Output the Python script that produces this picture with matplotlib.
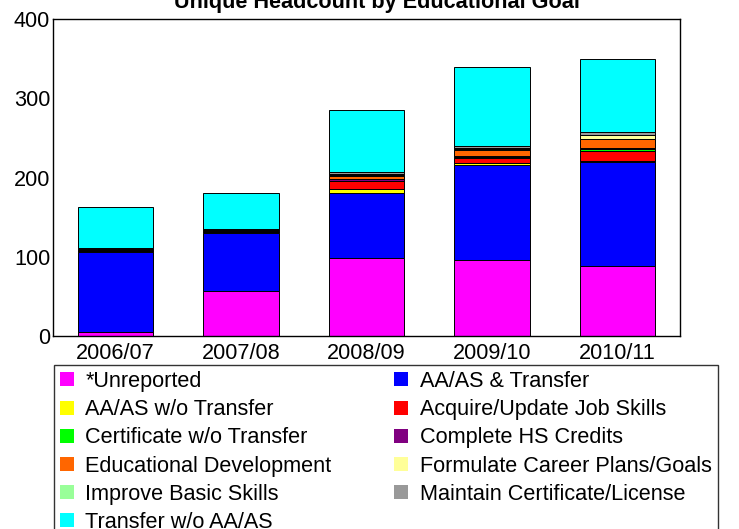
import numpy as np
import matplotlib
matplotlib.use("Agg")
import matplotlib.pyplot as plt

plt.rcParams['font.family'] = ['Liberation Sans', 'DejaVu Sans']

years = ['2006/07', '2007/08', '2008/09', '2009/10', '2010/11']

goals = ['*Unreported', 'AA/AS & Transfer', 'AA/AS w/o Transfer',
         'Acquire/Update Job Skills', 'Certificate w/o Transfer',
         'Complete HS Credits', 'Educational Development',
         'Formulate Career Plans/Goals', 'Improve Basic Skills',
         'Maintain Certificate/License', 'Transfer w/o AA/AS']

unreported = [5, 57, 98, 96, 88]
aa_transfer = [101, 73, 83, 120, 132]
aa_no_transfer = [1, 1, 4, 2, 1]
job_skills = [0, 0, 10, 6, 13]
certificate = [0, 0, 1, 2, 2]
hs_credits = [1, 1, 2, 1, 1]
ed_development = [2, 2, 4, 8, 12]
career_plans = [0, 0, 1, 1, 4]
basic_skills = [0, 0, 2, 1, 1]
maintain_cert = [1, 1, 2, 3, 3]
transfer_no_aa = [52, 45, 78, 100, 92]

series = [unreported, aa_transfer, aa_no_transfer, job_skills, certificate,
          hs_credits, ed_development, career_plans, basic_skills,
          maintain_cert, transfer_no_aa]
colors = ['#FF00FF', '#0000FF', '#FFFF00', '#FF0000', '#00FF00', '#800080',
          '#FF6600', '#FFFF99', '#99FF99', '#999999', '#00FFFF']

FS = 15.6
W, H = 739, 529
fig = plt.figure(figsize=(W / 100, H / 100), dpi=100)
ax = fig.add_axes([53 / W, 1 - 336 / H, (680 - 53) / W, (336 - 19) / H])

x = np.arange(len(years))
bottom = np.zeros(len(years))
handles = []
for vals, c, lab in zip(series, colors, goals):
    b = ax.bar(x, vals, 0.6, bottom=bottom, color=c, edgecolor='black',
               linewidth=0.7, label=lab)
    handles.append(b)
    bottom += np.array(vals)

ax.set_xlim(-0.5, 4.5)
ax.set_ylim(0, 400)
ax.set_yticks([0, 100, 200, 300, 400])
ax.set_xticks(x)
ax.set_xticklabels(years)
ax.tick_params(axis='both', length=0, labelsize=FS)
ax.tick_params(axis='y', pad=2)
ax.tick_params(axis='x', pad=5)
for s in ax.spines.values():
    s.set_color('black')
    s.set_linewidth(1)

fig.text(377 / W, 1 - 8 / H, 'Unique Headcount by Educational Goal',
         ha='center', va='baseline', fontsize=FS, fontweight='bold')

# legend ordered row by row like the original (two columns)
order = [0, 2, 4, 6, 8, 10, 1, 3, 5, 7, 9]
leg = fig.legend([handles[i] for i in order], [goals[i] for i in order],
                 loc='upper left', bbox_to_anchor=(54 / W, 1 - 365 / H),
                 ncol=2, fontsize=FS, frameon=True, fancybox=False,
                 edgecolor='black', handlelength=0.62, handleheight=0.62,
                 handletextpad=0.55, columnspacing=2.9, labelspacing=0.33,
                 borderpad=0.28, borderaxespad=0)
leg.get_frame().set_linewidth(1)
for h in leg.legend_handles:
    h.set_edgecolor('none')

fig.savefig('out.png', dpi=100)
